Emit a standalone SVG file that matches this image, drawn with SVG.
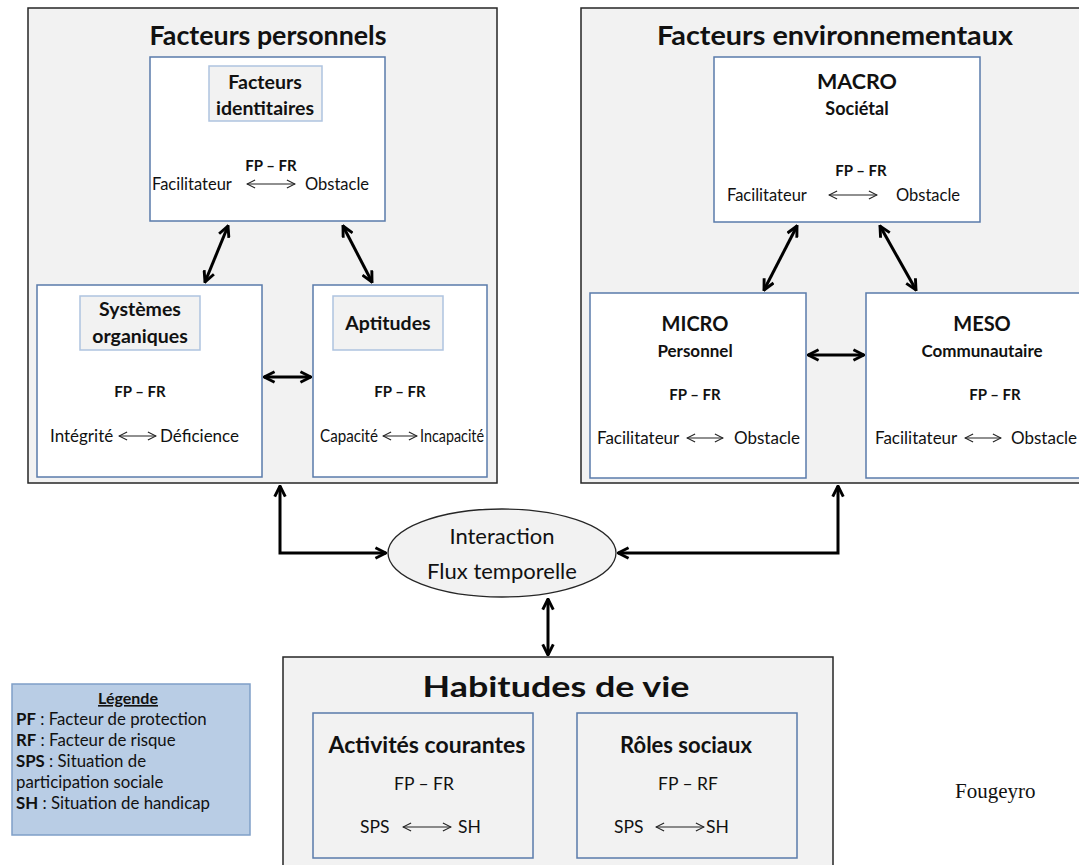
<svg xmlns="http://www.w3.org/2000/svg" width="1079" height="865" viewBox="0 0 1079 865">
<defs>
<marker id="ah" viewBox="0 0 10 10" refX="9" refY="5" markerWidth="4.4" markerHeight="4.4" orient="auto-start-reverse" markerUnits="strokeWidth">
<path d="M1,1 L9,5 L1,9" fill="none" stroke="#000" stroke-width="2.2" stroke-linejoin="miter"/>
</marker>
<marker id="sh" viewBox="0 0 10 10" refX="9.5" refY="5" markerWidth="9" markerHeight="9" orient="auto-start-reverse" markerUnits="strokeWidth">
<path d="M2,1.2 L9.5,5 L2,8.8" fill="none" stroke="#222" stroke-width="1"/>
</marker>
</defs>
<style>
.outer{fill:#f2f2f2;stroke:#262626;stroke-width:1.5}
.inner{fill:#ffffff;stroke:#5a7bab;stroke-width:1.5}
.innerg{fill:#f2f2f2;stroke:#5a7bab;stroke-width:1.5}
.lbl{fill:#f2f2f2;stroke:#aec3df;stroke-width:1.5}
text{font-family:Lato,"Liberation Sans",sans-serif;fill:#111}
.t1{font-size:27px;font-weight:bold;text-anchor:middle}
.t2{font-size:19.5px;font-weight:bold;text-anchor:middle}
.t3{font-size:15px;font-weight:bold;text-anchor:middle}
.t4{font-size:16.5px}
.t5{font-size:17px}
.c{text-anchor:middle}
.e{text-anchor:end}
.con{fill:none;stroke:#000;stroke-width:3;marker-start:url(#ah);marker-end:url(#ah)}
.sa{fill:none;stroke:#222;stroke-width:1.2;marker-start:url(#sh);marker-end:url(#sh)}
</style>

<g id="facteurs-personnels">
<rect class="outer" x="28" y="8" width="469" height="475"/>
<text class="t1" x="268" y="45" textLength="237" lengthAdjust="spacingAndGlyphs">Facteurs personnels</text>
</g>
<g id="facteurs-environnementaux">
<rect class="outer" x="581" y="8" width="520" height="475"/>
<text class="t1" x="835" y="45" textLength="356" lengthAdjust="spacingAndGlyphs">Facteurs environnementaux</text>
</g>

<g id="identitaires">
<rect class="inner" x="150" y="57" width="235" height="164"/>
<rect class="lbl" x="209" y="66" width="113" height="55"/>
<text class="t2" x="265" y="89">Facteurs</text>
<text class="t2" x="265" y="115">identitaires</text>
<text class="t3" x="271" y="171">FP – FR</text>
<text class="t4" x="152" y="190">Facilitateur</text>
<text class="t4 e" x="369" y="190">Obstacle</text>
<path class="sa" d="M247,184 H295"/>
</g>

<g id="systemes">
<rect class="inner" x="37" y="285" width="225" height="192"/>
<rect class="lbl" x="80" y="296" width="120" height="54"/>
<text class="t2" x="140" y="316">Systèmes</text>
<text class="t2" x="140" y="343">organiques</text>
<text class="t3" x="140" y="397">FP – FR</text>
<text class="t5" x="50" y="442">Intégrité</text>
<text class="t5" x="160" y="442">Déficience</text>
<path class="sa" d="M119,436 H156"/>
</g>

<g id="aptitudes">
<rect class="inner" x="313" y="285" width="174" height="192"/>
<rect class="lbl" x="333" y="296" width="110" height="54"/>
<text class="t2" x="388" y="330">Aptitudes</text>
<text class="t3" x="400" y="397">FP – FR</text>
<text class="t4" x="320" y="442" textLength="58" lengthAdjust="spacingAndGlyphs">Capacité</text>
<text class="t4" x="420" y="442" textLength="64" lengthAdjust="spacingAndGlyphs">Incapacité</text>
<path class="sa" d="M383,436 H417"/>
</g>

<g id="macro">
<rect class="inner" x="714" y="57" width="266" height="165"/>
<text class="t2" x="857" y="89" style="font-size:21.5px">MACRO</text>
<text class="t3" x="857" y="115" style="font-size:18px">Sociétal</text>
<text class="t3" x="861" y="176">FP – FR</text>
<text class="t4" x="727" y="201">Facilitateur</text>
<text class="t4 e" x="960" y="201">Obstacle</text>
<path class="sa" d="M829,195 H877"/>
</g>

<g id="micro">
<rect class="inner" x="590" y="293" width="216" height="185"/>
<text class="t2" x="695" y="331" style="font-size:20px">MICRO</text>
<text class="t3" x="695" y="357" style="font-size:17px">Personnel</text>
<text class="t3" x="695" y="400">FP – FR</text>
<text class="t5" x="597" y="444">Facilitateur</text>
<text class="t5 e" x="800" y="444">Obstacle</text>
<path class="sa" d="M687,438 H723"/>
</g>

<g id="meso">
<rect class="inner" x="866" y="293" width="230" height="185"/>
<text class="t2" x="982" y="331" style="font-size:20px">MESO</text>
<text class="t3" x="982" y="357" style="font-size:17px">Communautaire</text>
<text class="t3" x="995" y="400">FP – FR</text>
<text class="t5" x="875" y="444">Facilitateur</text>
<text class="t5 e" x="1077" y="444">Obstacle</text>
<path class="sa" d="M965,438 H1001"/>
</g>

<g id="interaction">
<ellipse cx="502" cy="553" rx="114" ry="44" fill="#f2f2f2" stroke="#262626" stroke-width="1.3"/>
<text class="c" x="502" y="544" style="font-size:22px">Interaction</text>
<text class="c" x="502" y="579" style="font-size:22px">Flux temporelle</text>
</g>

<g id="habitudes">
<rect class="outer" x="283" y="657" width="550" height="220"/>
<text class="t1" x="556" y="697" style="font-size:28.5px" textLength="267" lengthAdjust="spacingAndGlyphs">Habitudes de vie</text>
</g>
<g id="activites">
<rect class="innerg" x="313" y="713" width="220" height="145"/>
<text class="t2" x="427" y="753" style="font-size:23px">Activités courantes</text>
<text class="c" x="424" y="790" style="font-size:17.5px">FP – FR</text>
<text x="360" y="833" style="font-size:17.5px">SPS</text>
<text x="458" y="833" style="font-size:17.5px">SH</text>
<path class="sa" d="M403,827 H451"/>
</g>
<g id="roles">
<rect class="innerg" x="577" y="713" width="220" height="145"/>
<text class="t2" x="686" y="753" style="font-size:22px">Rôles sociaux</text>
<text class="c" x="688" y="790" style="font-size:17.5px">FP – RF</text>
<text x="614" y="833" style="font-size:17.5px">SPS</text>
<text x="706" y="833" style="font-size:17.5px">SH</text>
<path class="sa" d="M656,827 H704"/>
</g>

<g id="legende">
<rect x="12" y="684" width="238" height="151" fill="#b9cde5" stroke="#7f9fc7" stroke-width="1.5"/>
<text class="c" x="128" y="704" style="font-size:16px;font-weight:bold;text-decoration:underline">Légende</text>
<text x="16" y="725" style="font-size:16.8px"><tspan font-weight="bold">PF</tspan> : Facteur de protection</text>
<text x="16" y="746" style="font-size:16.8px"><tspan font-weight="bold">RF</tspan> : Facteur de risque</text>
<text x="16" y="767" style="font-size:16.8px"><tspan font-weight="bold">SPS</tspan> : Situation de</text>
<text x="16" y="788" style="font-size:16.8px">participation sociale</text>
<text x="16" y="809" style="font-size:16.8px"><tspan font-weight="bold">SH</tspan> : Situation de handicap</text>
</g>

<g id="source">
<text x="955" y="798" style="font-family:'Liberation Serif',serif;font-size:21px">Fougeyro</text>
</g>

<g id="connectors">
<path class="con" d="M228,226 L205,282"/>
<path class="con" d="M343,226 L372,282"/>
<path class="con" d="M264,377 H311"/>
<path class="con" d="M797,226 L764,290"/>
<path class="con" d="M880,226 L916,290"/>
<path class="con" d="M808,355 H864"/>
<path class="con" d="M280,486 V553 H386"/>
<path class="con" d="M838,486 V553 H618"/>
<path class="con" d="M548,599 V655"/>
</g>
</svg>
